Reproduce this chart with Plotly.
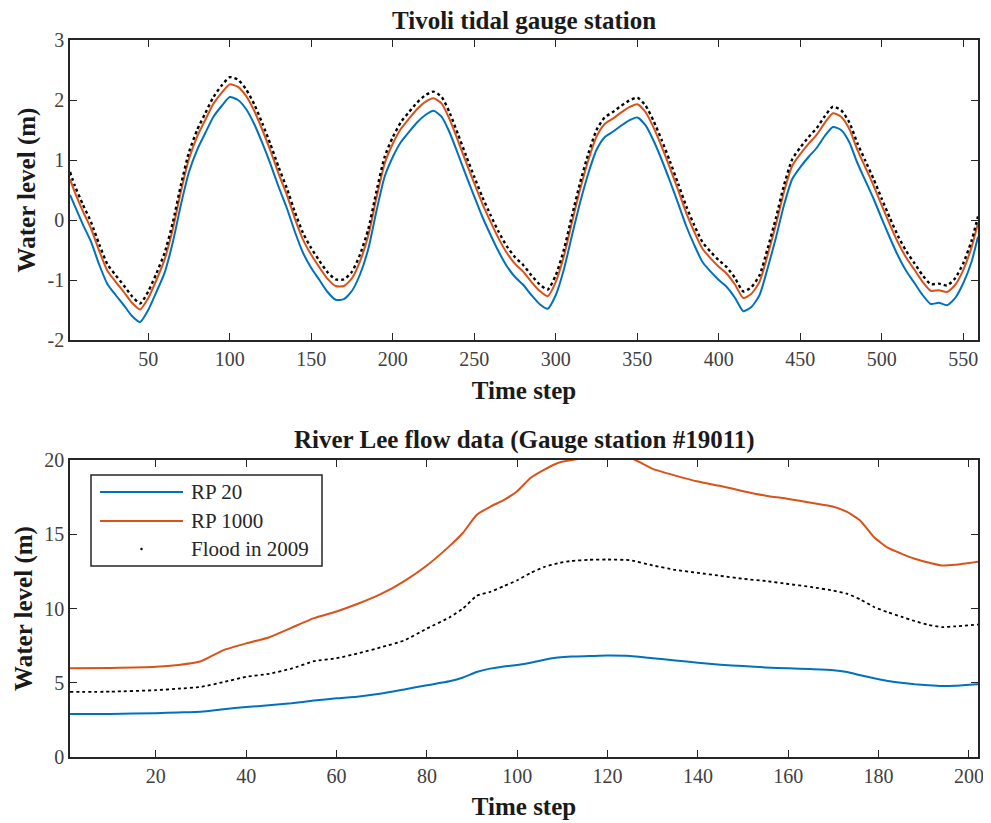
import plotly.graph_objects as go

# ---------------- Top panel: Tivoli tidal gauge station ----------------
t_top = [2, 5, 10, 15, 20, 25, 30, 35, 40, 45, 50, 55, 60, 65, 70, 75, 80, 85, 90, 95,
         100, 105, 110, 115, 120, 125, 130, 135, 140, 145, 150, 155, 160, 165, 170, 175,
         180, 185, 190, 195, 200, 205, 210, 215, 220, 225, 230, 235, 240, 245, 250, 255,
         260, 265, 270, 275, 280, 285, 290, 295, 300, 305, 310, 315, 320, 325, 330, 335,
         340, 345, 350, 355, 360, 365, 370, 375, 380, 385, 390, 395, 400, 405, 410, 415,
         420, 425, 430, 435, 440, 445, 450, 455, 460, 465, 470, 475, 480, 485, 490, 495,
         500, 505, 510, 515, 520, 525, 530, 535, 540, 545, 550, 555, 559]

tide_rp20 = [0.42, 0.23, -0.08, -0.37, -0.75, -1.07, -1.25, -1.42, -1.60, -1.70, -1.50, -1.20,
             -0.88, -0.38, 0.25, 0.80, 1.17, 1.45, 1.72, 1.90, 2.05, 2.00, 1.85, 1.60, 1.28,
             0.93, 0.55, 0.20, -0.20, -0.55, -0.80, -1.00, -1.20, -1.33, -1.32, -1.18, -0.90,
             -0.48, 0.15, 0.72, 1.05, 1.30, 1.47, 1.63, 1.75, 1.82, 1.72, 1.45, 1.10, 0.74,
             0.39, 0.05, -0.25, -0.53, -0.77, -0.95, -1.08, -1.25, -1.40, -1.48, -1.25, -0.82,
             -0.25, 0.30, 0.78, 1.17, 1.38, 1.47, 1.57, 1.66, 1.71, 1.58, 1.32, 1.00, 0.65,
             0.28, -0.10, -0.42, -0.70, -0.86, -1.00, -1.12, -1.30, -1.52, -1.45, -1.25, -0.80,
             -0.30, 0.25, 0.68, 0.88, 1.05, 1.20, 1.40, 1.55, 1.50, 1.30, 0.95, 0.65, 0.35,
             0.02, -0.30, -0.60, -0.85, -1.05, -1.25, -1.40, -1.38, -1.42, -1.30, -1.05, -0.70,
             -0.28]

tide_rp1000 = [0.68, 0.46, 0.14, -0.15, -0.52, -0.85, -1.03, -1.20, -1.38, -1.49, -1.30, -1.00,
               -0.66, -0.16, 0.47, 1.02, 1.39, 1.67, 1.94, 2.12, 2.26, 2.22, 2.07, 1.82, 1.50,
               1.15, 0.77, 0.42, 0.02, -0.33, -0.58, -0.79, -0.98, -1.10, -1.10, -0.97, -0.68,
               -0.26, 0.37, 0.94, 1.27, 1.52, 1.69, 1.85, 1.97, 2.03, 1.94, 1.67, 1.32, 0.96,
               0.61, 0.27, -0.03, -0.31, -0.55, -0.73, -0.86, -1.03, -1.18, -1.27, -1.03, -0.60,
               -0.03, 0.52, 1.00, 1.39, 1.60, 1.69, 1.79, 1.88, 1.93, 1.80, 1.54, 1.22, 0.87,
               0.50, 0.12, -0.20, -0.48, -0.64, -0.78, -0.90, -1.08, -1.30, -1.23, -1.03, -0.58,
               -0.08, 0.47, 0.90, 1.10, 1.27, 1.42, 1.62, 1.78, 1.72, 1.52, 1.17, 0.87, 0.57,
               0.24, -0.08, -0.38, -0.63, -0.83, -1.03, -1.18, -1.17, -1.20, -1.08, -0.83, -0.46,
               -0.05]

tide_2009 = [0.80, 0.57, 0.25, -0.04, -0.41, -0.74, -0.92, -1.09, -1.27, -1.39, -1.19, -0.89,
             -0.55, -0.05, 0.58, 1.13, 1.50, 1.78, 2.05, 2.24, 2.38, 2.34, 2.18, 1.93, 1.61,
             1.26, 0.88, 0.53, 0.13, -0.22, -0.47, -0.68, -0.87, -0.99, -0.99, -0.86, -0.57,
             -0.15, 0.48, 1.05, 1.38, 1.63, 1.80, 1.96, 2.08, 2.14, 2.05, 1.78, 1.43, 1.07,
             0.72, 0.38, 0.08, -0.20, -0.44, -0.62, -0.75, -0.92, -1.07, -1.16, -0.92, -0.49,
             0.08, 0.63, 1.11, 1.50, 1.71, 1.80, 1.90, 1.99, 2.04, 1.91, 1.65, 1.33, 0.98,
             0.61, 0.23, -0.09, -0.37, -0.53, -0.67, -0.79, -0.97, -1.19, -1.12, -0.92, -0.47,
             0.03, 0.58, 1.01, 1.21, 1.38, 1.53, 1.73, 1.89, 1.83, 1.63, 1.28, 0.98, 0.68,
             0.35, 0.03, -0.27, -0.52, -0.72, -0.92, -1.07, -1.06, -1.09, -0.97, -0.72, -0.35,
             0.06]

# ---------------- Bottom panel: River Lee flow data ----------------
t_bot = [1, 10, 20, 25, 30, 35, 40, 45, 50, 55, 60, 65, 70, 75, 80, 85, 88, 91, 94, 97,
         100, 103, 106, 109, 112, 116, 120, 125, 130, 135, 140, 145, 150, 155, 160, 165,
         170, 173, 176, 179, 182, 185, 188, 191, 194, 197, 202]

flow_rp20 = [2.90, 2.90, 2.95, 3.00, 3.05, 3.22, 3.37, 3.48, 3.62, 3.80, 3.95, 4.08, 4.28,
             4.55, 4.83, 5.10, 5.35, 5.72, 5.95, 6.10, 6.20, 6.35, 6.55, 6.70, 6.77, 6.80,
             6.83, 6.80, 6.65, 6.50, 6.35, 6.22, 6.12, 6.03, 5.97, 5.92, 5.85, 5.72, 5.50,
             5.30, 5.12, 5.00, 4.90, 4.83, 4.78, 4.80, 4.90]

flow_rp1000 = [5.98, 6.00, 6.07, 6.20, 6.45, 7.20, 7.65, 8.05, 8.70, 9.35, 9.80, 10.35, 11.00,
               11.85, 12.90, 14.20, 15.10, 16.30, 16.85, 17.30, 17.90, 18.80, 19.35, 19.80,
               20.00, 20.15, 20.20, 20.15, 19.40, 18.95, 18.55, 18.25, 17.90, 17.60, 17.38,
               17.12, 16.85, 16.50, 15.90, 14.80, 14.10, 13.70, 13.35, 13.10, 12.90, 12.95,
               13.15]

flow_2009 = [4.38, 4.40, 4.50, 4.60, 4.72, 5.05, 5.40, 5.60, 5.95, 6.45, 6.65, 7.00, 7.40,
             7.85, 8.65, 9.40, 10.00, 10.85, 11.12, 11.50, 11.90, 12.40, 12.80, 13.05, 13.20,
             13.28, 13.30, 13.25, 12.90, 12.60, 12.40, 12.20, 12.00, 11.85, 11.65, 11.45,
             11.20, 11.00, 10.60, 10.10, 9.75, 9.45, 9.15, 8.90, 8.75, 8.80, 8.92]

legend_names = ["RP 20", "RP 1000", "Flood in 2009"]

top_xticks = [50, 100, 150, 200, 250, 300, 350, 400, 450, 500, 550]
top_yticks = [-2, -1, 0, 1, 2, 3]
top_yticktext = ["-2", "-1", "0", "1", "2", "3"]
bot_xticks = [20, 40, 60, 80, 100, 120, 140, 160, 180, 200]
bot_yticks = [0, 5, 10, 15, 20]

BLUE = "#0072BD"
ORANGE = "#D95319"
BLACK = "#000000"
FONT = "Liberation Serif"
TICKCOL = "#404040"
OFF = 8              # the page body margin places the figure at (8, 8)
W, H = 983, 815


def px(x):
    return (x - OFF) / W


def py(y):
    return 1 - (y - OFF) / H


fig = go.Figure()

# top panel
fig.add_trace(go.Scatter(x=t_top, y=tide_rp20, mode="lines",
                         line=dict(color=BLUE, width=2, shape="spline", smoothing=0.6),
                         xaxis="x", yaxis="y", showlegend=False))
fig.add_trace(go.Scatter(x=t_top, y=tide_rp1000, mode="lines",
                         line=dict(color=ORANGE, width=2, shape="spline", smoothing=0.6),
                         xaxis="x", yaxis="y", showlegend=False))
fig.add_trace(go.Scatter(x=t_top, y=tide_2009, mode="lines",
                         line=dict(color=BLACK, width=2.4, dash="dot", shape="spline", smoothing=0.6),
                         xaxis="x", yaxis="y", showlegend=False))

# bottom panel
fig.add_trace(go.Scatter(x=t_bot, y=flow_rp20, mode="lines", name=legend_names[0],
                         line=dict(color=BLUE, width=2, shape="spline", smoothing=0.5),
                         xaxis="x2", yaxis="y2", showlegend=False))
fig.add_trace(go.Scatter(x=t_bot, y=flow_rp1000, mode="lines", name=legend_names[1],
                         line=dict(color=ORANGE, width=2, shape="spline", smoothing=0.5),
                         xaxis="x2", yaxis="y2", showlegend=False))
fig.add_trace(go.Scatter(x=t_bot, y=flow_2009, mode="lines", name=legend_names[2],
                         line=dict(color=BLACK, width=1.8, dash="dot", shape="spline", smoothing=0.5),
                         xaxis="x2", yaxis="y2", showlegend=False))

axis_common = dict(showline=True, linecolor="#262626", linewidth=1.5, mirror="ticks",
                   ticks="inside", ticklen=7, tickwidth=1.3, tickcolor="#262626",
                   showgrid=False, zeroline=False, automargin=False,
                   tickfont=dict(family=FONT, size=20, color=TICKCOL))

xtitle_font = dict(family=FONT, size=25, color="#1a1a1a")
ytitle_font = dict(family=FONT, size=25, color="#1a1a1a")

# manual legend (box, samples, labels)
shapes = [
    dict(type="rect", xref="paper", yref="paper", x0=px(91), x1=px(322), y0=py(566), y1=py(475),
         line=dict(color="#262626", width=1.5), fillcolor="white", layer="above"),
    dict(type="line", xref="paper", yref="paper", x0=px(100), x1=px(183), y0=py(492), y1=py(492),
         line=dict(color=BLUE, width=2), layer="above"),
    dict(type="line", xref="paper", yref="paper", x0=px(100), x1=px(183), y0=py(521), y1=py(521),
         line=dict(color=ORANGE, width=2), layer="above"),
    dict(type="circle", xref="paper", yref="paper", x0=px(140.5), x1=px(142.5), y0=py(550), y1=py(548),
         line=dict(color=BLACK, width=0.5), fillcolor=BLACK, layer="above"),
]

legend_ann = [
    dict(text=name, x=px(189), y=py(yy), xref="paper", yref="paper", showarrow=False,
         xanchor="left", yanchor="middle", font=dict(family=FONT, size=21, color="#262626"))
    for name, yy in zip(legend_names, [492, 521, 549])
]

fig.update_layout(
    width=W, height=H,
    margin=dict(l=0, r=0, t=0, b=0),
    paper_bgcolor="white", plot_bgcolor="white",
    xaxis=dict(domain=[px(70), px(978)], range=[2, 559], tickvals=top_xticks, anchor="y",
               title=dict(text="<b>Time step</b>", font=xtitle_font, standoff=13), **axis_common),
    yaxis=dict(domain=[py(340), py(40)], range=[-2, 3], tickvals=top_yticks,
               ticktext=top_yticktext, anchor="x",
               title=dict(text="<b>Water level (m)</b>", font=ytitle_font, standoff=5), **axis_common),
    xaxis2=dict(domain=[px(70), px(978)], range=[1, 202], tickvals=bot_xticks, anchor="y2",
                title=dict(text="<b>Time step</b>", font=xtitle_font, standoff=12), **axis_common),
    yaxis2=dict(domain=[py(757), py(460)], range=[0, 20], tickvals=bot_yticks, anchor="x2",
                title=dict(text="<b>Water level (m)</b>", font=ytitle_font, standoff=5), **axis_common),
    shapes=shapes,
    annotations=[
        dict(text="<b>Tivoli tidal gauge station</b>", x=px(524), y=py(20),
             xref="paper", yref="paper", showarrow=False, xanchor="center", yanchor="middle",
             font=dict(family=FONT, size=25, color="#1a1a1a")),
        dict(text="<b>River Lee flow data (Gauge station #19011)</b>", x=px(524), y=py(440),
             xref="paper", yref="paper", showarrow=False, xanchor="center", yanchor="middle",
             font=dict(family=FONT, size=25, color="#1a1a1a")),
    ] + legend_ann,
)

fig.write_html("out.html")
